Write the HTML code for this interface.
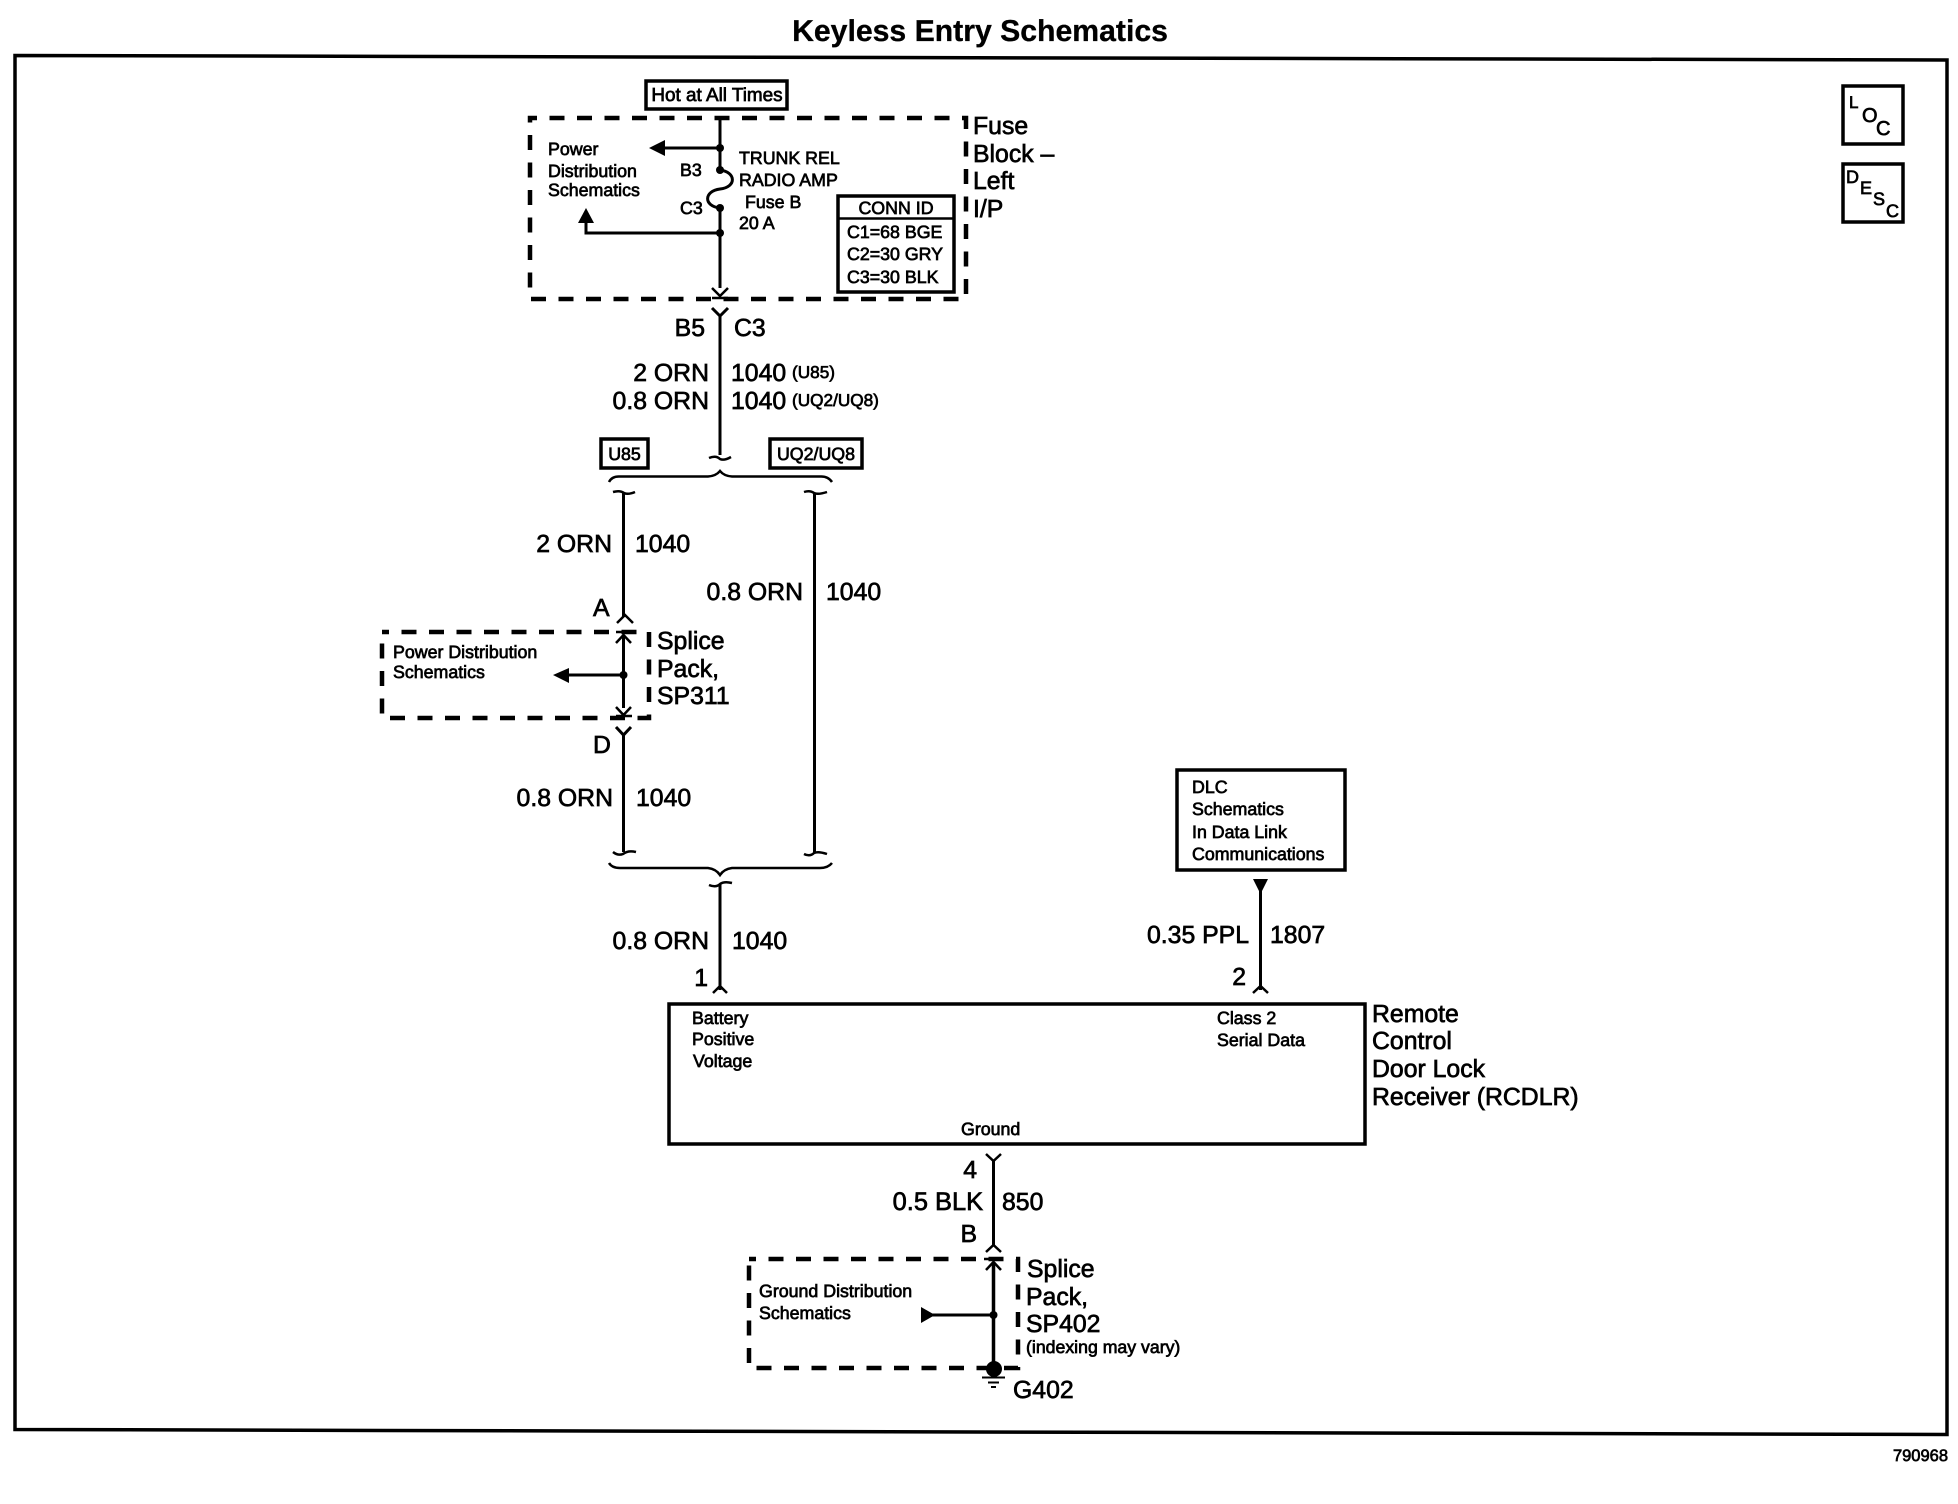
<!DOCTYPE html>
<html><head><meta charset="utf-8"><title>Keyless Entry Schematics</title>
<style>
html,body{margin:0;padding:0;background:#fff}
svg{display:block}
text{font-family:"Liberation Sans",sans-serif;fill:#000;stroke:#000;stroke-width:.7;text-rendering:geometricPrecision}
.l{font-size:24.8px}
.s{font-size:17.8px}
.m{font-size:20px}
.w{fill:none;stroke:#000;stroke-width:3}
.t{fill:none;stroke:#000;stroke-width:2.5}
.d{fill:none;stroke:#000;stroke-width:4.5;stroke-dasharray:15 12.5;stroke-dashoffset:8}
.b{fill:none;stroke:#000;stroke-width:3.5}
.e{text-anchor:end}
.c{text-anchor:middle}
</style></head><body>
<svg width="1958" height="1504" viewBox="0 0 1958 1504" xmlns="http://www.w3.org/2000/svg">
<rect width="1958" height="1504" fill="#fff"/>
<text x="980" y="41" class="c" style="font-size:30.2px;font-weight:bold;stroke-width:.3">Keyless Entry Schematics</text>
<path d="M15 55.500L1947 60V1434.500L15 1429.500Z" fill="none" stroke="#000" stroke-width="3.500"/>
<text x="1948" y="1461" class="e" style="font-size:16.500px">790968</text>

<!-- LOC / DESC -->
<rect x="1843" y="86" width="60" height="58" class="b"/>
<text x="1849" y="108" class="m" style="font-size:17px">L</text>
<text x="1862" y="122" class="m">O</text>
<text x="1876" y="135" class="m">C</text>
<rect x="1843" y="164" width="60" height="58" class="b"/>
<text x="1846" y="183" class="m" style="font-size:18px">D</text>
<text x="1860" y="194" class="m" style="font-size:18px">E</text>
<text x="1873" y="205" class="m" style="font-size:18px">S</text>
<text x="1886" y="217" class="m" style="font-size:18px">C</text>

<!-- Fuse block -->
<rect x="646" y="81" width="141" height="28" class="b"/>
<text x="717" y="101" class="c" style="font-size:18.900px">Hot at All Times</text>
<rect x="530" y="118" width="436" height="181" class="d"/>
<path d="M720 118V170M720 208V288" class="w"/>
<path d="M720 170C736 172 737 187 720 189C704 191 703 206 720 208" class="w"/>
<circle cx="720" cy="148" r="4"/><circle cx="720" cy="170" r="4"/><circle cx="720" cy="208" r="4"/><circle cx="720" cy="233" r="4"/>
<path d="M720 148H660" class="w"/><path d="M649 148L665 140V156Z"/>
<path d="M720 233H586V218" class="w"/><path d="M586 208L578 223H594Z"/>
<path d="M712 288L720 296L728 288M712 298H728" class="t"/>
<path d="M712 308L720 316L728 308M720 316V455" class="t" style="stroke-width:3"/>
<path d="M709 458Q716 455 720 459Q724 461 731 457" class="t"/>
<text x="548" y="155" class="s">Power</text>
<text x="548" y="177" class="s">Distribution</text>
<text x="548" y="196" class="s">Schematics</text>
<text x="680" y="176" class="s">B3</text>
<text x="680" y="214" class="s">C3</text>
<text x="739" y="164" class="s">TRUNK REL</text>
<text x="739" y="186" class="s">RADIO AMP</text>
<text x="745" y="208" class="s">Fuse B</text>
<text x="739" y="229" class="s">20 A</text>
<rect x="838" y="196" width="116" height="96" class="b"/>
<path d="M838 218.500H954" class="t"/>
<text x="896" y="214" class="c s">CONN ID</text>
<text x="847" y="238" class="s">C1=68 BGE</text>
<text x="847" y="260" class="s">C2=30 GRY</text>
<text x="847" y="283" class="s">C3=30 BLK</text>
<text x="973" y="134" class="l">Fuse</text>
<text x="973" y="162" class="l">Block –</text>
<text x="973" y="189" class="l">Left</text>
<text x="973" y="217" class="l">I/P</text>
<text x="705" y="336" class="e l">B5</text>
<text x="734" y="336" class="l">C3</text>
<text x="709" y="381" class="e l">2 ORN</text>
<text x="731" y="381" class="l">1040</text>
<text x="792" y="378" style="font-size:17.200px">(U85)</text>
<text x="709" y="409" class="e l">0.8 ORN</text>
<text x="731" y="409" class="l">1040</text>
<text x="792" y="406" style="font-size:17.200px">(UQ2/UQ8)</text>

<!-- Option boxes -->
<rect x="601" y="439" width="47" height="29" class="b"/>
<text x="624.500" y="460" class="c s">U85</text>
<rect x="770" y="439" width="92" height="29" class="b"/>
<text x="816" y="460" class="c s">UQ2/UQ8</text>

<!-- Top brace -->
<path d="M609 482Q612 476 620 476.500H708Q716 476 720 471Q724 476 732 476.500H820Q828 476 832 482" class="t"/>
<path d="M613 492Q620 490 624 493Q628 495 635 492" class="t"/>
<path d="M804 492Q810 490 814 493Q818 495 827 492" class="t"/>
<path d="M623.500 493V617M814.500 493V853" class="w"/>
<path d="M617 623L625 615L633 623" class="t"/>
<path d="M613 852Q618 856 623 854Q628 850 636 852M804 854Q810 857 814 853Q818 851 827 854" class="t"/>
<!-- Splice SP311 -->
<rect x="382" y="632" width="267" height="86" class="d"/>
<path d="M623.500 636V708" class="w"/>
<path d="M616 643L623.500 635L631 643M616 707L623.500 715L631 707M616 716H632M616 632H632" class="t"/>
<circle cx="623.500" cy="675" r="4"/>
<path d="M623 675H565" class="w"/><path d="M553 675L569 668V683Z"/>
<path d="M616 727L623.500 735L631 727M623.500 735V852" class="t" style="stroke-width:3"/>
<text x="393" y="658" class="s">Power Distribution</text>
<text x="393" y="678" class="s">Schematics</text>
<text x="657" y="649" class="l">Splice</text>
<text x="657" y="677" class="l">Pack,</text>
<text x="657" y="704" class="l">SP311</text>
<text x="612" y="552" class="e l">2 ORN</text>
<text x="635" y="552" class="l">1040</text>
<text x="593" y="616" class="l">A</text>
<text x="593" y="753" class="l">D</text>
<text x="803" y="600" class="e l">0.8 ORN</text>
<text x="826" y="600" class="l">1040</text>
<text x="613" y="806" class="e l">0.8 ORN</text>
<text x="636" y="806" class="l">1040</text>
<!-- Bottom brace -->
<path d="M609 863Q612 868 620 868H708Q716 869 720 875Q724 869 732 868H820Q828 868 832 863" class="t"/>
<path d="M709 885Q716 888 720 884Q724 881 732 883" class="t"/>
<path d="M720 884V990" class="w"/>
<path d="M713 993L720 986L727 993" class="t"/>
<text x="709" y="949" class="e l">0.8 ORN</text>
<text x="732" y="949" class="l">1040</text>
<text x="708" y="986" class="e l">1</text>

<!-- DLC -->
<rect x="1177" y="770" width="168" height="100" class="b"/>
<text x="1192" y="793" class="s">DLC</text>
<text x="1192" y="815" class="s">Schematics</text>
<text x="1192" y="838" class="s">In Data Link</text>
<text x="1192" y="860" class="s">Communications</text>
<path d="M1253 879H1268L1260.500 894Z"/>
<path d="M1260.500 885V990" class="w"/>
<path d="M1253 993L1260.500 986L1268 993" class="t"/>
<text x="1249" y="943" class="e l">0.35 PPL</text>
<text x="1270" y="943" class="l">1807</text>
<text x="1246" y="985" class="e l">2</text>

<!-- RCDLR -->
<rect x="669" y="1004" width="696" height="140" class="b"/>
<text x="692" y="1024" class="s">Battery</text>
<text x="692" y="1045" class="s">Positive</text>
<text x="693" y="1067" class="s">Voltage</text>
<text x="1217" y="1024" class="s">Class 2</text>
<text x="1217" y="1046" class="s">Serial Data</text>
<text x="961" y="1135" class="s">Ground</text>
<text x="1372" y="1022" class="l">Remote</text>
<text x="1372" y="1049" class="l">Control</text>
<text x="1372" y="1077" class="l">Door Lock</text>
<text x="1372" y="1105" class="l">Receiver (RCDLR)</text>

<!-- Ground wire -->
<path d="M986 1154L993.500 1161L1001 1154" class="t"/>
<path d="M993.500 1160V1246" class="w"/>
<path d="M986 1252L993.500 1245L1001 1252" class="t"/>
<text x="977" y="1178" class="e l">4</text>
<text x="983" y="1210" class="e l" style="font-size:25.400px">0.5 BLK</text>
<text x="1002" y="1210" class="l">850</text>
<text x="977" y="1242" class="e l">B</text>
<!-- SP402 -->
<rect x="749" y="1259" width="269" height="109" class="d"/>
<path d="M993.500 1262V1366" class="w" style="stroke-width:3.500"/>
<path d="M986 1270L993.500 1262L1001 1270M984 1259H1002" class="t"/>
<circle cx="993.500" cy="1315" r="4"/>
<path d="M993 1315H930" class="w"/><path d="M921 1307L935 1315L921 1323Z"/>
<circle cx="994" cy="1369" r="8"/>
<path d="M982 1377.500H1005M988 1382.500H999M991 1387H996" class="t" style="stroke-width:2"/>
<text x="759" y="1297" class="s">Ground Distribution</text>
<text x="759" y="1319" class="s">Schematics</text>
<text x="1027" y="1277" class="l">Splice</text>
<text x="1026" y="1305" class="l">Pack,</text>
<text x="1026" y="1332" class="l">SP402</text>
<text x="1026" y="1353" style="font-size:17.700px">(indexing may vary)</text>
<text x="1013" y="1398" class="l">G402</text>
</svg>
</body></html>
